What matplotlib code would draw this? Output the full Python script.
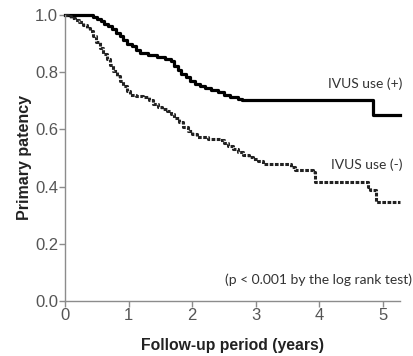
import numpy as np
import matplotlib
matplotlib.use("Agg")
import matplotlib.pyplot as plt

# Kaplan-Meier step data (years, primary patency)
ivus_pos_t = [0, 0.44, 0.50, 0.56, 0.62, 0.68, 0.74, 0.80, 0.86, 0.92, 0.98, 1.05, 1.12, 1.18,
              1.30, 1.45, 1.58, 1.66, 1.72, 1.77, 1.83, 1.90, 1.97, 2.05, 2.12, 2.20, 2.30,
              2.40, 2.50, 2.60, 2.72, 2.78, 4.85, 5.27]
ivus_pos_s = [1.0, 0.993, 0.987, 0.979, 0.970, 0.960, 0.950, 0.938, 0.925, 0.912, 0.900, 0.890,
              0.878, 0.868, 0.860, 0.852, 0.845, 0.838, 0.823, 0.808, 0.795, 0.783, 0.770,
              0.760, 0.752, 0.745, 0.738, 0.730, 0.722, 0.714, 0.708, 0.703, 0.65, 0.65]

ivus_neg_t = [0, 0.05, 0.10, 0.16, 0.22, 0.28, 0.34, 0.39, 0.44, 0.49, 0.55, 0.60, 0.66, 0.71,
              0.76, 0.82, 0.87, 0.92, 0.97, 1.02, 1.12, 1.23, 1.32, 1.39, 1.46, 1.53, 1.60,
              1.66, 1.72, 1.79, 1.86, 1.93, 2.00, 2.08, 2.25, 2.44, 2.50, 2.56, 2.65, 2.72,
              2.80, 2.90, 2.96, 3.04, 3.12, 3.55, 3.62, 3.90, 3.94, 4.76, 4.80, 4.90, 5.27]
ivus_neg_s = [1.0, 0.995, 0.99, 0.982, 0.975, 0.965, 0.955, 0.944, 0.925, 0.905, 0.885, 0.865,
              0.845, 0.825, 0.805, 0.787, 0.769, 0.752, 0.735, 0.720, 0.716, 0.712, 0.702,
              0.690, 0.680, 0.672, 0.664, 0.655, 0.640, 0.625, 0.608, 0.595, 0.583, 0.572,
              0.567, 0.563, 0.553, 0.543, 0.530, 0.520, 0.512, 0.505, 0.497, 0.488, 0.478,
              0.470, 0.458, 0.450, 0.416, 0.400, 0.388, 0.346, 0.346]

x_ticks = [0, 1, 2, 3, 4, 5]
y_ticks = [0.0, 0.2, 0.4, 0.6, 0.8, 1.0]

fig = plt.figure(figsize=(4.13, 3.56), dpi=100)
ax = fig.add_axes([65 / 413, 55 / 356, 335 / 413, 286 / 356])

ax.step(ivus_pos_t, ivus_pos_s, where='post', color='black', lw=2.3, clip_on=False)
ax.step(ivus_neg_t, ivus_neg_s, where='post', color='#222222', lw=2.2, clip_on=False,
        linestyle=(0, (1.2, 0.5)))

ax.set_xlim(0, 5.27)
ax.set_ylim(0, 1.0)
ax.set_xticks(x_ticks)
ax.set_yticks(y_ticks)
ax.set_xticklabels([str(t) for t in x_ticks])
ax.set_yticklabels(['%.1f' % t for t in y_ticks])

for side in ['top', 'right']:
    ax.spines[side].set_visible(False)
for side in ['left', 'bottom']:
    ax.spines[side].set_color('#8c8c8c')
    ax.spines[side].set_linewidth(1.0)
ax.tick_params(axis='both', direction='out', length=4, width=1, color='#8c8c8c',
               labelsize=12, labelcolor='#555555', pad=1)

ax.set_xlabel('Follow-up period (years)', fontsize=11.3, fontweight='bold',
              family='Liberation Sans', color='#222222', labelpad=11)
ax.set_ylabel('Primary patency', fontsize=11.5, fontweight='bold',
              family='Liberation Sans', color='#222222', labelpad=2)
for lab in ax.get_xticklabels() + ax.get_yticklabels():
    lab.set_family('Liberation Sans')

ax.text(1.006, 0.76, 'IVUS use (+)', transform=ax.transAxes, ha='right', va='center',
        fontsize=10, family='Lato', color='#333333')
ax.text(1.006, 0.475, 'IVUS use (-)', transform=ax.transAxes, ha='right', va='center',
        fontsize=10, family='Lato', color='#333333')
ax.text(1.036, 0.075, '(p < 0.001 by the log rank test)', transform=ax.transAxes,
        ha='right', va='center', fontsize=10, family='Lato', color='#333333')

fig.savefig('out.png', dpi=100)
